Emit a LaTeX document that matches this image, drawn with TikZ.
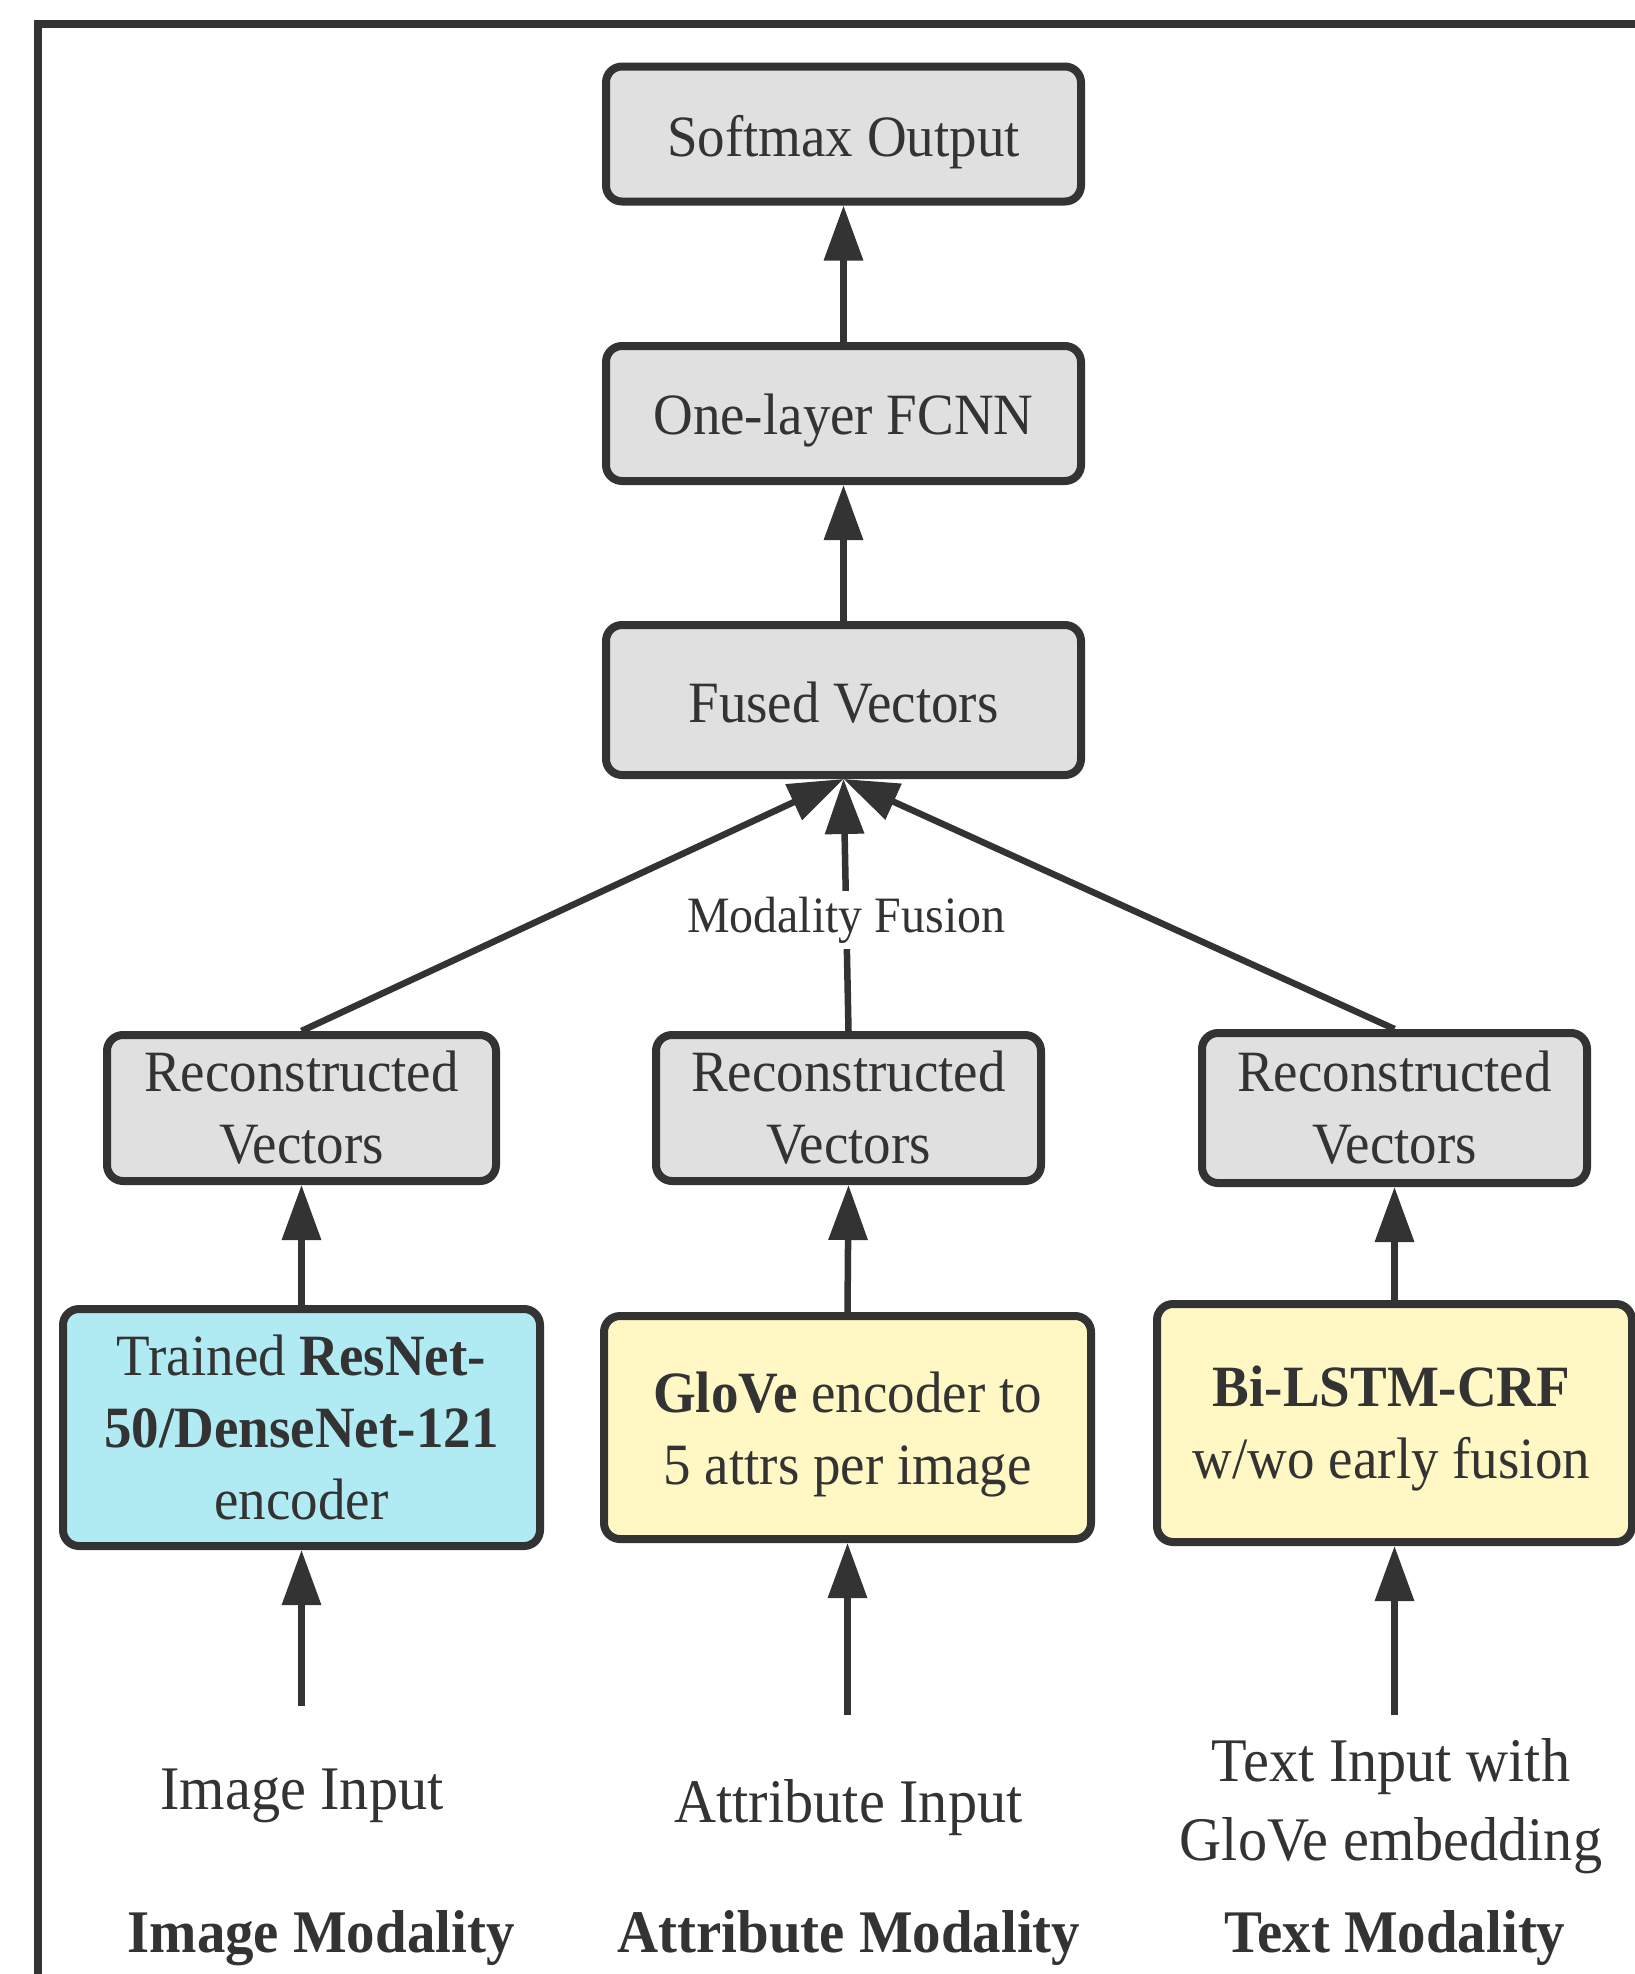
\documentclass[tikz,border=0pt]{standalone}
\usepackage{fontspec}
\setmainfont[FakeStretch=0.94]{Liberation Serif}
\usetikzlibrary{arrows.meta}
\definecolor{ink}{HTML}{333333}
\definecolor{boxgray}{HTML}{E0E0E0}
\definecolor{boxcyan}{HTML}{B0EAF2}
\definecolor{boxyellow}{HTML}{FFF8C5}
\begin{document}
\begin{tikzpicture}[x=1pt,y=-1pt,
  box/.style={draw=ink, line width=8pt, rounded corners=16pt, inner sep=0pt},
  graybox/.style={box, fill=boxgray},
  cyanbox/.style={box, fill=boxcyan},
  yellowbox/.style={box, fill=boxyellow},
  boxtext/.style={text=ink, align=center, inner sep=0pt, font=\fontsize{58.5}{72}\selectfont},
  link/.style={draw=ink, line width=6.5pt, -{Triangle[length=55pt,width=38pt]}},
  inlabel/.style={text=ink, align=center, inner sep=0pt, font=\fontsize{62}{79}\selectfont},
  modlabel/.style={text=ink, inner sep=0pt, font=\fontsize{60.5}{70}\selectfont\bfseries},
  fuselabel/.style={text=ink, fill=white, inner sep=6pt, font=\fontsize{51}{60}\selectfont}]
\useasboundingbox (0,0) rectangle (1634,1974);
\fill[white] (0,0) rectangle (1634,1974);

% outer frame (runs off the right and bottom edges)
\draw[draw=ink, line width=7.5pt] (38,1990) -- (38,24) -- (1650,24);

% upper stack
\node[graybox, minimum width=475pt, minimum height=135pt] (soft) at (843.5,134) {};
\node[graybox, minimum width=475pt, minimum height=135pt] (fcnn) at (843.5,413.5) {};
\node[graybox, minimum width=475pt, minimum height=150pt] (fused) at (843.5,700) {};

% reconstructed vectors per modality
\node[graybox, minimum width=389pt, minimum height=146pt] (rec1) at (301.5,1108) {};
\node[graybox, minimum width=385pt, minimum height=146pt] (rec2) at (848.5,1108) {};
\node[graybox, minimum width=385pt, minimum height=150pt] (rec3) at (1394.5,1108) {};

% encoders
\node[cyanbox, minimum width=477pt, minimum height=237pt] (enc1) at (301.5,1427.5) {};
\node[yellowbox, minimum width=487pt, minimum height=223pt] (enc2) at (847.5,1427.5) {};
\node[yellowbox, minimum width=475pt, minimum height=238pt] (enc3) at (1394.5,1423) {};

% box captions
\node[boxtext] (softtext) at ([yshift=-8pt]soft.center) {Softmax Output};
\node[boxtext] (fcnntext) at ([yshift=-7pt]fcnn.center) {One-layer FCNN};
\node[boxtext] (fusedtext) at ([yshift=-3pt]fused.center) {Fused Vectors};
\node[boxtext] (rec1text) at (rec1.center) {Reconstructed\\Vectors};
\node[boxtext] (rec2text) at (rec2.center) {Reconstructed\\Vectors};
\node[boxtext] (rec3text) at (rec3.center) {Reconstructed\\Vectors};
\node[boxtext] (enc1text) at (enc1.center)
  {Trained \textbf{ResNet-}\\\textbf{50/DenseNet-121}\\encoder};
\node[boxtext] (enc2text) at ([yshift=-7pt]enc2.center)
  {\textbf{GloVe} encoder to\\5 attrs per image};
\node[boxtext] (enc3text) at ([yshift=-5pt,xshift=-3pt]enc3.center)
  {\textbf{Bi-LSTM-CRF}\\w/wo early fusion};

% input arrow tails
\coordinate (in1) at (301.5,1706);
\coordinate (in2) at (847.5,1715);
\coordinate (in3) at (1394.5,1715);

% inputs and modality names
\node[inlabel] (lab1) at (302,1796) {Image Input};
\node[inlabel] (lab2) at (848.5,1808) {Attribute Input};
\node[inlabel] (lab3) at (1391,1806) {Text Input with\\GloVe embedding};
\node[modlabel] (mod1) at (321,1938) {Image Modality};
\node[modlabel] (mod2) at (849,1938) {Attribute Modality};
\node[modlabel] (mod3) at (1395,1938) {Text Modality};

% connectors
\draw[link] (fcnn.north) -- (soft.south);
\draw[link] (fused.north) -- (fcnn.south);
\draw[link] (rec1.north) -- (fused.south);
\draw[link] (rec3.north) -- (fused.south);
\draw[link] (rec2.north) -- node[fuselabel, pos=0.44] (fuse) {Modality Fusion} (fused.south);
\draw[link] (enc1.north) -- (rec1.south);
\draw[link] (enc2.north) -- (rec2.south);
\draw[link] (enc3.north) -- (rec3.south);
\draw[link] (in1) -- (enc1.south);
\draw[link] (in2) -- (enc2.south);
\draw[link] (in3) -- (enc3.south);
\end{tikzpicture}
\end{document}
